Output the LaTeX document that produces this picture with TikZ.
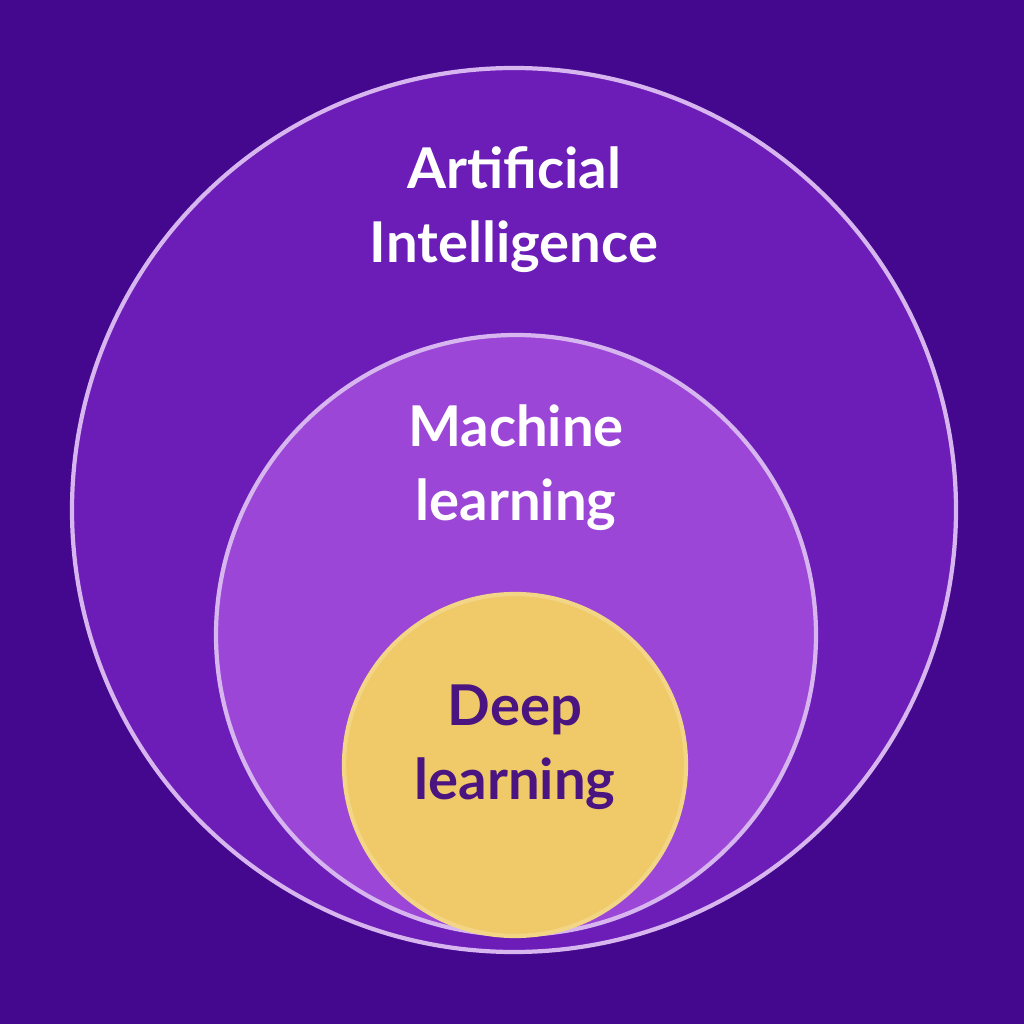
\documentclass[tikz,border=0pt]{standalone}
\usepackage{fontspec}
\setmainfont{Lato}
\definecolor{bgpurple}{HTML}{44088F}
\definecolor{aipurple}{HTML}{6C1DB8}
\definecolor{mlpurple}{HTML}{9B46D6}
\definecolor{dlyellow}{HTML}{F0CA68}
\definecolor{dltext}{HTML}{4A1580}
\tikzset{
  ring/.style={circle, draw=white!60!mlpurple, line width=1.2pt, inner sep=0pt},
  label/.style={align=center, font=\fontsize{16}{21}\selectfont\bfseries, text=white}
}
\begin{document}
\begin{tikzpicture}

% background
\fill[bgpurple] (0,0) rectangle (10.24,10.24);
\useasboundingbox (0,0) rectangle (10.24,10.24);

% circles
\node[ring, fill=aipurple, minimum size=8.84cm] (ai) at (5.14,5.14) {};
\node[ring, fill=mlpurple, minimum size=6.0cm] (ml) at (5.16,3.89) {};
\node[ring, fill=dlyellow, draw=dlyellow!80!white, minimum size=3.42cm] (dl) at (5.15,2.59) {};

% labels
\node[label] (aitext) at (5.14,8.14) {Artificial\\Intelligence};
\node[label] (mltext) at (5.16,5.56) {Machine\\learning};
\node[label, text=dltext] (dltext) at (5.15,2.77) {Deep\\learning};

\end{tikzpicture}
\end{document}
